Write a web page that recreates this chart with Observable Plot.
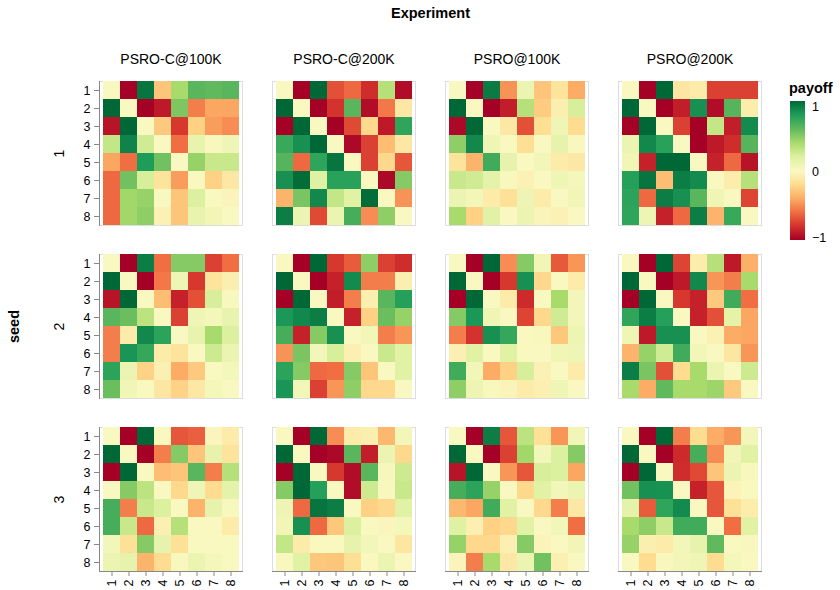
<!DOCTYPE html>
<html><head><meta charset="utf-8">
<script src="https://cdn.jsdelivr.net/npm/d3@7"></script>
<script src="https://cdn.jsdelivr.net/npm/@observablehq/plot@0.6"></script>
<style>
body{margin:0;background:#fff;font-family:"Liberation Sans",Arial,Helvetica,sans-serif;}
#wrap{position:relative;width:840px;height:590px;}
#legend{position:absolute;left:0;top:0;pointer-events:none;}
g[aria-label="fx-axis label"] text{font-size:14.5px;font-weight:bold;}
g[aria-label="fy-axis label"] text{font-size:14.5px;font-weight:bold;}
</style>
</head><body>
<div id="wrap"></div>
<script>
const experiments = ["PSRO-C@100K", "PSRO-C@200K", "PSRO@100K", "PSRO@200K"];
const seeds = [1, 2, 3];
const strategies = [1, 2, 3, 4, 5, 6, 7, 8];
const legendTicks = [1, 0, -1];
const schemeColors = ["#a50026","#d4322c","#f16e43","#fcac64","#fedd90","#faf8c1","#dcf1a0","#a9da6c","#60b95c","#1e9d5a","#006837"];

// payoff matrices: rows = y strategy (1..8 top to bottom), columns = x strategy (1..8)
const seed1_psroc100k = [
  [0, -1, 0.95, -0.3, 0.4, 0.62, 0.6, 0.62],
  [1, 0, -1, -0.9, 0.52, -0.55, -0.42, -0.42],
  [-0.92, 1, 0, -0.28, -0.78, -0.25, -0.45, -0.5],
  [0.3, 0.9, 0.25, 0, -0.6, 0.12, 0.02, 0.07],
  [-0.42, -0.6, 0.8, 0.55, 0, 0.45, 0.28, 0.28],
  [-0.62, 0.55, 0.22, -0.15, -0.45, 0, -0.25, -0.12],
  [-0.62, 0.42, 0.45, 0, -0.3, 0.2, 0, -0.03],
  [-0.62, 0.42, 0.47, -0.05, -0.3, 0.12, 0.06, 0]
];
const seed1_psroc200k = [
  [0, -1, 1, -0.7, -0.62, -0.82, 0.35, -0.95],
  [1, 0, -1, -0.8, 0.62, -0.95, -0.57, -0.12],
  [-1, 1, 0, -1, -0.72, -0.22, -0.9, 0.75],
  [0.72, 0.85, 1, 0, -0.97, -0.75, -0.33, -0.12],
  [0.63, -0.62, 0.75, 0.95, 0, -0.75, -0.22, -0.68],
  [0.85, 0.98, 0.18, 0.77, 0.77, 0, -0.97, 0.5],
  [-0.37, 0.53, 0.88, 0.3, 0.17, 0.98, 0, -0.48],
  [0.92, 0.1, -0.72, 0.1, 0.68, -0.5, 0.47, 0]
];
const seed1_psro100k = [
  [0, -1, 0.93, -0.48, 0.1, -0.3, -0.15, -0.4],
  [1, 0, -1, -0.88, 0.35, -0.27, -0.07, 0.22],
  [-0.97, 1, 0, -0.12, -0.7, -0.18, 0.07, -0.2],
  [0.47, 0.88, 0.07, 0, -0.18, 0, 0.13, 0.02],
  [-0.15, -0.37, 0.7, 0.13, 0, 0.05, -0.1, -0.12],
  [0.28, 0.25, 0.14, 0.02, -0.05, 0, 0.07, 0.04],
  [0.1, 0.05, -0.1, -0.17, 0.08, -0.1, 0, 0.06],
  [0.4, -0.25, 0.17, 0, 0.1, -0.03, -0.05, 0]
];
const seed1_psro200k = [
  [0, -1, 1, -0.13, -0.1, -0.75, -0.75, -0.75],
  [1, 0, -1, -0.88, 0.85, -0.95, 0.63, -0.08],
  [-1, 1, 0, -0.75, -1, 0.3, -0.88, 0.87],
  [0.1, 0.88, 0.77, 0, -1, -0.9, -0.82, 0.63],
  [0.06, -0.87, 1, 1, 0, -0.87, -0.62, -0.92],
  [0.78, 0.95, -0.33, 0.92, 0.87, 0, -0.08, 0.35],
  [0.76, -0.62, 0.92, 0.85, 0.62, 0.07, 0, -0.74],
  [0.75, 0.08, -0.87, -0.62, 0.92, -0.37, 0.72, 0]
];
const seed2_psroc100k = [
  [0, -1, 0.92, -0.6, 0.5, 0.5, -0.75, -0.6],
  [1, 0, -1, -0.57, 0.07, -0.78, -0.15, -0.07],
  [-0.92, 1, 0, -0.33, -0.87, -0.7, 0.22, 0.02],
  [0.62, 0.57, 0.32, 0, -0.75, 0.07, 0.04, 0.12],
  [-0.55, -0.1, 0.88, 0.76, 0, 0.12, 0.4, 0.2],
  [-0.55, 0.83, 0.73, -0.1, -0.15, 0, 0.26, 0.1],
  [0.76, 0.1, -0.24, -0.06, -0.4, -0.28, 0, 0.04],
  [0.57, 0.06, 0.01, -0.13, -0.24, -0.12, 0.04, 0]
];
const seed2_psroc200k = [
  [0, -1, 1, -0.78, -0.66, 0.47, -0.75, -0.82],
  [1, 0, -1, -0.87, 0.87, -0.55, -0.55, -0.07],
  [-1, 1, 0, -0.88, -0.55, -0.07, 0.62, 0.78],
  [0.82, 0.88, 0.92, 0, -0.87, -0.25, 0.57, 0.45],
  [0.68, -0.87, 0.5, 0.85, 0, 0.05, -0.55, -0.47],
  [-0.48, 0.53, 0.05, 0.22, -0.06, 0, 0.27, 0.17],
  [0.76, 0.5, -0.62, -0.6, 0.5, -0.3, 0, 0.17],
  [0.83, 0.05, -0.75, -0.47, 0.47, -0.22, -0.22, 0]
];
const seed2_psro100k = [
  [0, -1, 1, -0.5, 0.5, 0.06, -0.67, -0.47],
  [1, 0, -1, -0.78, 0.85, -0.22, 0, -0.1],
  [-1, 1, 0, -0.1, -0.83, 0, 0.4, 0.05],
  [0.5, 0.82, 0.07, 0, -0.74, -0.22, 0.25, 0.05],
  [-0.55, -0.8, 0.85, 0.73, 0, 0.02, -0.29, 0.09],
  [-0.06, 0.17, 0, 0.17, 0.01, 0, 0.06, 0.07],
  [0.7, 0.05, -0.4, -0.25, 0.22, -0.05, 0, -0.1],
  [0.47, 0.08, 0.02, -0.03, -0.1, -0.06, 0.07, 0]
];
const seed2_psro200k = [
  [0, -1, 1, -0.74, -0.08, 0.35, -0.9, -0.38],
  [1, 0, -1, -0.9, 0.88, -0.47, -0.55, 0.4],
  [-1, 1, 0, -0.78, -0.87, -0.28, 0.7, -0.6],
  [0.75, 0.92, 0.78, 0, -0.87, -0.7, 0.15, -0.42],
  [0.07, -0.9, 0.85, 0.85, 0, -0.05, -0.4, -0.42],
  [-0.37, 0.45, 0.25, 0.7, 0.05, 0, -0.13, -0.47],
  [0.92, 0.53, -0.7, -0.2, 0.4, 0.1, 0, 0.26],
  [0.4, -0.4, 0.6, 0.4, 0.4, 0.43, -0.28, 0]
];
const seed3_psroc100k = [
  [0, -1, 1, 0.01, -0.68, -0.65, -0.02, -0.1],
  [1, 0, -1, -0.55, 0.5, -0.3, 0.13, -0.15],
  [-1, 1, 0, -0.33, -0.3, 0.62, -0.55, 0.35],
  [0, 0.5, 0.32, 0, -0.22, 0.07, -0.2, 0.14],
  [0.68, -0.55, 0.28, 0.2, 0, -0.37, 0.13, 0.02],
  [0.68, 0.28, -0.62, -0.06, 0.35, 0, 0, -0.1],
  [0.05, -0.17, 0.5, 0.13, -0.17, 0, 0, 0.01],
  [0.1, 0.13, -0.37, -0.2, 0.02, 0.1, 0.04, 0]
];
const seed3_psroc200k = [
  [0, -1, 1, -0.5, -0.1, -0.07, -0.35, 0.05],
  [1, 0, -1, -0.97, 0.62, -0.88, 0.1, -0.22],
  [-1, 1, 0, -0.78, -0.95, 0.62, 0.03, 0.26],
  [0.5, 1, 0.78, 0, -0.95, 0.26, 0.02, 0.28],
  [0.08, -0.62, 0.95, 0.92, 0, -0.25, -0.22, 0.17],
  [0.06, 0.85, -0.62, -0.29, 0.2, 0, -0.02, 0.04],
  [0.3, -0.1, 0.01, 0.01, 0.13, 0.05, 0, -0.13],
  [0.02, 0.17, -0.29, -0.3, -0.18, 0.01, 0.1, 0]
];
const seed3_psro100k = [
  [0, -1, 0.92, -0.68, 0.32, -0.17, -0.47, 0.06],
  [1, 0, -1, -0.75, 0.42, 0.05, 0.2, 0.5],
  [-0.92, 1, 0, -0.47, -0.68, 0.22, 0.2, -0.42],
  [0.68, 0.76, 0.45, 0, -0.22, 0.17, 0.05, 0.1],
  [-0.35, -0.42, 0.7, 0.17, 0, -0.22, -0.55, -0.12],
  [0.18, -0.06, -0.25, -0.22, 0.17, 0, 0.05, -0.6],
  [0.45, -0.22, -0.22, -0.06, 0.5, -0.03, 0, 0.06],
  [-0.03, -0.55, 0.4, -0.12, 0.1, 0.55, -0.06, 0]
];
const seed3_psro200k = [
  [0, -1, 1, -0.55, -0.2, -0.4, -0.47, 0.05],
  [1, 0, -1, -0.83, 0.68, -0.5, 0.06, 0.17],
  [-1, 1, 0, -0.82, -0.72, -0.3, 0.1, 0.02],
  [0.55, 0.85, 0.84, 0, -0.87, -0.68, -0.04, 0.01],
  [0.14, -0.66, 0.75, 0.87, 0, -0.68, -0.17, -0.08],
  [0.4, 0.47, 0.28, 0.7, 0.7, 0, -0.6, 0.17],
  [0.45, -0.07, -0.1, 0.05, 0.13, 0.6, 0, 0.02],
  [0, -0.2, 0.02, 0.05, 0.07, -0.2, 0.04, 0]
];

const panels = [
  [1, experiments[0], seed1_psroc100k], [1, experiments[1], seed1_psroc200k],
  [1, experiments[2], seed1_psro100k], [1, experiments[3], seed1_psro200k],
  [2, experiments[0], seed2_psroc100k], [2, experiments[1], seed2_psroc200k],
  [2, experiments[2], seed2_psro100k], [2, experiments[3], seed2_psro200k],
  [3, experiments[0], seed3_psroc100k], [3, experiments[1], seed3_psroc200k],
  [3, experiments[2], seed3_psro100k], [3, experiments[3], seed3_psro200k]
];
const table = [];
for (const [seed, experiment, m] of panels)
  m.forEach((row, i) => row.forEach((v, j) =>
    table.push({seed, experiment, row: strategies[i], col: strategies[j], payoff: v})));

const interp = d3.piecewise(d3.interpolateRgb, schemeColors);

const chart = Plot.plot({
  width: 840, height: 590,
  marginTop: 80, marginLeft: 98, marginRight: 77, marginBottom: 19,
  style: {fontFamily: "'Liberation Sans', Arial, Helvetica, sans-serif", fontSize: "12px", background: "white", overflow: "visible"},
  fx: {domain: experiments, paddingInner: 0.171, paddingOuter: 0},
  fy: {domain: seeds, paddingInner: 0.17, paddingOuter: 0},
  x: {domain: strategies, padding: 0},
  y: {domain: strategies, padding: 0},
  color: {type: "linear", domain: [-1, 1], interpolate: interp},
  marks: [
    Plot.frame({stroke: "#ddd"}),
    Plot.cell(table, {x: "col", y: "row", fx: "experiment", fy: "seed", fill: "payoff", inset: 0}),
    Plot.frame({anchor: "left", facetAnchor: "left", stroke: "#888"}),
    Plot.frame({anchor: "bottom", facetAnchor: "bottom", stroke: "#888"}),
    Plot.axisY({anchor: "left", facetAnchor: "left", label: null, tickSize: 5, tickPadding: 4, stroke: "#888", fontSize: 12.5}),
    Plot.axisX({anchor: "bottom", facetAnchor: "bottom", label: null, tickSize: 5, tickPadding: 3, tickRotate: -90, stroke: "#888", fontSize: 12.5}),
    Plot.axisFx({anchor: "top", label: "Experiment", labelAnchor: "center", labelOffset: 74, tickSize: 0, tickPadding: 18, fontSize: 14}),
    Plot.axisFy({anchor: "left", label: "seed", labelAnchor: "center", labelOffset: 91, tickSize: 0, tickRotate: -90, tickPadding: 36, fontSize: 14})
  ]
});
const wrap = document.getElementById("wrap");
wrap.appendChild(chart);

// vertical gradient legend
const lg = d3.select(wrap).append("svg").attr("id", "legend").attr("width", 840).attr("height", 590)
  .style("font-family", "'Liberation Sans', Arial, Helvetica, sans-serif");
const defs = lg.append("defs");
const grad = defs.append("linearGradient").attr("id", "lgGrad").attr("x1", 0).attr("x2", 0).attr("y1", 0).attr("y2", 1);
d3.range(0, 1.0001, 0.05).forEach(t => grad.append("stop").attr("offset", t).attr("stop-color", interp(1 - t)));
const ly = d3.scaleLinear().domain([1, -1]).range([101, 240]);
lg.append("text").attr("x", 789).attr("y", 93).attr("font-size", 14.5).attr("font-weight", "bold").text("payoff");
lg.append("rect").attr("x", 790).attr("y", ly(1)).attr("width", 15).attr("height", ly(-1) - ly(1)).attr("fill", "url(#lgGrad)");
lg.selectAll("text.tick").data(legendTicks).join("text").attr("class", "tick")
  .attr("x", 812).attr("y", (d, i) => ly(d) + (i === 0 ? 10 : i === legendTicks.length - 1 ? 2 : 5))
  .attr("font-size", 12.5).text(d => d3.format("")(d).replace("-", "\u2212"));
</script>
</body></html>
